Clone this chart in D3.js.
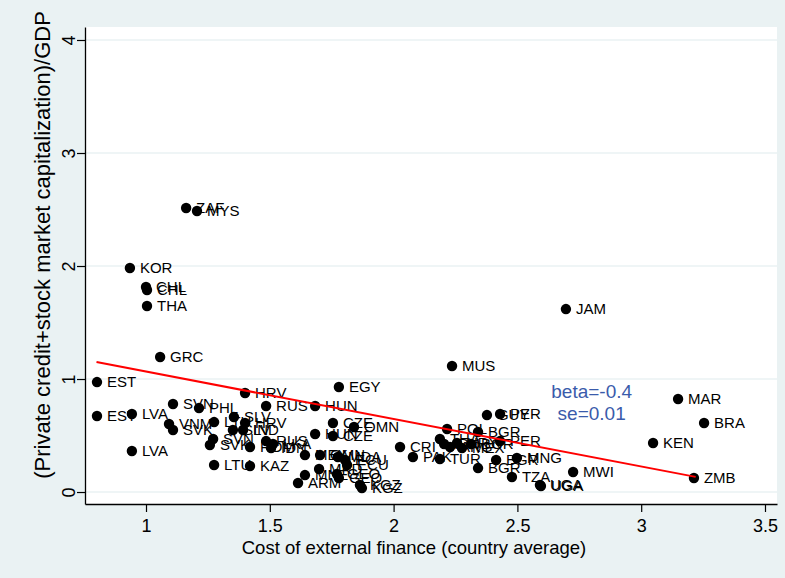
<!DOCTYPE html>
<html>
<head>
<meta charset="utf-8">
<script src="https://cdn.jsdelivr.net/npm/d3@7/dist/d3.min.js"></script>
<style>
    body { margin: 0; background: #eaf2f3; }
    svg { display: block; font-family: "Liberation Sans", Arial, sans-serif; }
</style>
</head>
<body>
<svg id="chart"></svg>
<script>
// country labels (one per observation)
const countries = [
    "ZAF", "MYS", "KOR", "CHL", "CHL", "THA", "GRC", "JAM", "MUS",
    "EST", "EST", "LVA", "LVA", "SVN", "PHL", "VNM", "SVK", "LTU", "SLV",
    "HRV", "HRV", "SLV", "IND", "SVN", "SVK", "ROM", "RUS", "RUS", "LKA",
    "IDN", "LTU", "KAZ", "EGY", "HUN", "CZE", "OMN", "HUN", "CZE", "MEX",
    "OMN", "MDA", "ECU", "ECU", "MKD", "MNE", "ARM", "GEO", "GEO", "KGZ",
    "KGZ", "CRI", "PAK", "POL", "THA", "IDN", "ARG", "URY", "TUR", "MEX",
    "BGR", "BGR", "GUY", "PER", "PER", "BGR", "BGR", "MNG", "TZA", "UGA",
    "UGA", "MWI", "MAR", "BRA", "KEN", "ZMB"
];
// x: cost of external finance (country average)
const costOfFinance = [
    1.162, 1.206, 0.935, 1.000, 1.004, 1.004, 1.057, 2.696, 2.236,
    0.802, 0.802, 0.943, 0.943, 1.109, 1.214, 1.093, 1.109, 1.275, 1.355,
    1.400, 1.400, 1.351, 1.392, 1.271, 1.258, 1.420, 1.485, 1.485, 1.513,
    1.505, 1.275, 1.420, 1.779, 1.683, 1.755, 1.840, 1.683, 1.755, 1.642,
    1.703, 1.775, 1.804, 1.812, 1.699, 1.642, 1.614, 1.771, 1.779, 1.864,
    1.872, 2.026, 2.078, 2.216, 2.187, 2.204, 2.228, 2.256, 2.187, 2.276,
    2.313, 2.341, 2.377, 2.430, 2.430, 2.341, 2.414, 2.498, 2.478, 2.591,
    2.595, 2.725, 3.149, 3.254, 3.048, 3.213
];
// y: (private credit + stock market capitalization) / GDP
const financialDepth = [
    2.513, 2.487, 1.982, 1.814, 1.788, 1.646, 1.195, 1.619, 1.115,
    0.973, 0.673, 0.690, 0.363, 0.779, 0.743, 0.602, 0.549, 0.619, 0.664,
    0.876, 0.611, 0.549, 0.549, 0.469, 0.416, 0.398, 0.761, 0.451, 0.425,
    0.389, 0.239, 0.230, 0.929, 0.761, 0.611, 0.575, 0.513, 0.496, 0.327,
    0.327, 0.310, 0.283, 0.239, 0.204, 0.150, 0.080, 0.159, 0.124, 0.062,
    0.035, 0.398, 0.310, 0.558, 0.469, 0.425, 0.398, 0.434, 0.292, 0.389,
    0.425, 0.531, 0.681, 0.690, 0.451, 0.212, 0.283, 0.301, 0.133, 0.062,
    0.053, 0.177, 0.823, 0.611, 0.434, 0.124
];

const xTickValues = [1, 1.5, 2, 2.5, 3, 3.5];
const yTickValues = [0, 1, 2, 3, 4];

// fitted line end points
const fitX = [0.80, 3.22];
const fitY = [1.150, 0.134];

// regression note, anchored in data units
const noteLines = ["beta=-0.4", "se=0.01"];
const noteX = 2.80;
const noteY = [0.894, 0.700];

class LabeledScatter {

    constructor(config) {
        this.config = config;
        this.init();
    }

    init() {
        let self = this;

        self.svg = d3.select(self.config.parent)
            .attr('width', self.config.width)
            .attr('height', self.config.height);

        self.svg.append('rect')
            .attr('width', self.config.width)
            .attr('height', self.config.height)
            .attr('fill', '#eaf2f3');

        self.plot = self.config.plot;

        // white plot region
        self.svg.append('rect')
            .attr('x', self.plot.left)
            .attr('y', self.plot.top)
            .attr('width', self.plot.right - self.plot.left)
            .attr('height', self.plot.bottom - self.plot.top)
            .attr('fill', '#ffffff');
    }

    update() {
        let self = this;

        self.dataset = countries.map((c, i) => ({
            label: c,
            x: costOfFinance[i],
            y: financialDepth[i]
        }));

        self.xScale = d3.scaleLinear()
            .domain(self.config.xDomain)
            .range([self.plot.left, self.plot.right]);

        self.yScale = d3.scaleLinear()
            .domain(self.config.yDomain)
            .range([self.plot.bottom, self.plot.top]);

        self.axisx = d3.axisBottom(self.xScale)
            .tickValues(xTickValues)
            .tickSize(8)
            .tickSizeOuter(0)
            .tickPadding(7)
            .tickFormat(d3.format(''));

        self.axisy = d3.axisLeft(self.yScale)
            .tickValues(yTickValues)
            .tickSize(8)
            .tickSizeOuter(0)
            .tickFormat(d3.format('d'));

        self.line = d3.line()
            .x(d => self.xScale(d[0]))
            .y(d => self.yScale(d[1]));

        self.render();
    }

    render() {
        let self = this;

        // grid
        self.svg.append('g')
            .selectAll('line')
            .data(yTickValues)
            .join('line')
            .attr('x1', self.plot.left)
            .attr('x2', self.plot.right)
            .attr('y1', d => self.yScale(d))
            .attr('y2', d => self.yScale(d))
            .attr('stroke', '#eaf2f3')
            .attr('stroke-width', 1.5);

        // x axis
        let x = self.svg.append('g')
            .attr('transform', `translate(0, ${self.plot.bottom})`)
            .call(self.axisx);
        x.select('.domain').attr('stroke', '#000').attr('stroke-width', 1.3);
        x.selectAll('.tick line').attr('stroke', '#000').attr('stroke-width', 1.2);
        x.selectAll('.tick text')
            .attr('fill', '#000')
            .attr('font-size', '18px')
            .attr('font-family', '"Liberation Sans", Arial, sans-serif');

        // y axis, labels turned sideways
        let y = self.svg.append('g')
            .attr('transform', `translate(${self.plot.left}, 0)`)
            .call(self.axisy);
        y.select('.domain').attr('stroke', '#000').attr('stroke-width', 1.3);
        y.selectAll('.tick line').attr('stroke', '#000').attr('stroke-width', 1.2);
        y.selectAll('.tick text')
            .attr('x', null)
            .attr('dy', null)
            .attr('transform', 'translate(-10, 0) rotate(-90)')
            .attr('text-anchor', 'middle')
            .attr('fill', '#000')
            .attr('font-size', '18px')
            .attr('font-family', '"Liberation Sans", Arial, sans-serif');

        // axis titles
        self.svg.append('text')
            .attr('x', 414)
            .attr('y', 554)
            .attr('text-anchor', 'middle')
            .attr('font-size', '18.5px')
            .attr('fill', '#000')
            .text('Cost of external finance (country average)');

        self.svg.append('text')
            .attr('transform', 'translate(50, 245) rotate(-90)')
            .attr('text-anchor', 'middle')
            .attr('font-size', '22px')
            .attr('fill', '#000')
            .text('(Private credit+stock market capitalization)/GDP');

        // points
        let pts = self.svg.append('g');
        pts.selectAll('circle')
            .data(self.dataset)
            .join('circle')
            .attr('cx', d => self.xScale(d.x))
            .attr('cy', d => self.yScale(d.y))
            .attr('r', 5.2)
            .attr('fill', '#000');

        pts.selectAll('text')
            .data(self.dataset)
            .join('text')
            .attr('x', d => self.xScale(d.x) + 10)
            .attr('y', d => self.yScale(d.y))
            .attr('dy', '0.36em')
            .attr('font-size', '15px')
            .attr('fill', '#000')
            .text(d => d.label);

        // fitted line
        self.svg.append('path')
            .datum(d3.zip(fitX, fitY))
            .attr('fill', 'none')
            .attr('stroke', '#ff0000')
            .attr('stroke-width', 2)
            .attr('d', self.line);

        // beta / se note
        self.svg.append('g')
            .selectAll('text')
            .data(noteLines)
            .join('text')
            .attr('x', self.xScale(noteX))
            .attr('y', (d, i) => self.yScale(noteY[i]))
            .attr('dy', '0.36em')
            .attr('text-anchor', 'middle')
            .attr('font-size', '19px')
            .attr('fill', '#3a5bab')
            .text(d => d);
    }
}

let chart = new LabeledScatter({
    parent: '#chart',
    width: 785,
    height: 578,
    plot: { left: 85, right: 777, top: 27, bottom: 504 },
    xDomain: [0.7536, 3.5485],
    yDomain: [-0.106, 4.115]
});
chart.update();
</script>
</body>
</html>
